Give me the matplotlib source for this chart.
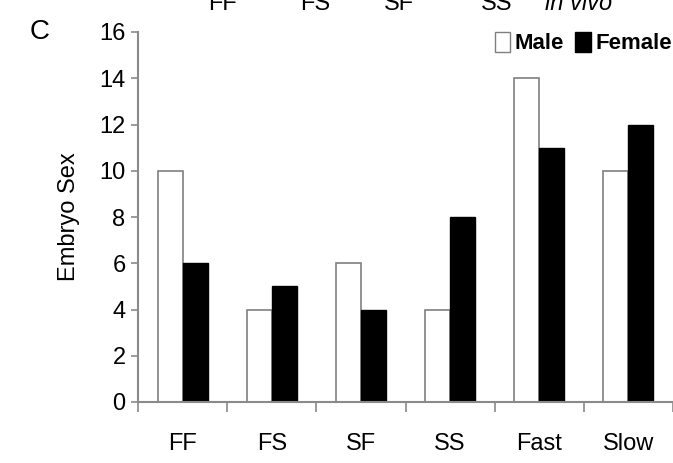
import numpy as np
import matplotlib
matplotlib.use('Agg')
import matplotlib.pyplot as plt
from matplotlib.patches import Patch

# data
categories = ['FF', 'FS', 'SF', 'SS', 'Fast', 'Slow']
male = [10, 4, 6, 4, 14, 10]
female = [6, 5, 4, 8, 11, 12]
yticks = [0, 2, 4, 6, 8, 10, 12, 14, 16]

plt.rcParams['font.family'] = ['Liberation Sans', 'DejaVu Sans']

fig = plt.figure(figsize=(6.73, 4.63), dpi=100)
ax = fig.add_axes([138 / 673, 1 - 402 / 463, 535 / 673, 370 / 463])

x = np.arange(len(categories)) + 0.5
w = 0.28
ax.bar(x - w / 2, male, w, color='white', edgecolor='#7f7f7f', linewidth=1.2, label='Male')
ax.bar(x + w / 2, female, w, color='black', edgecolor='black', linewidth=1.0, label='Female')

ax.set_xlim(0, len(categories))
ax.set_ylim(0, 16)
ax.set_yticks(yticks)
ax.set_xticks(np.arange(len(categories) + 1))
ax.set_xticklabels([])
ax.set_xticks(x, minor=True)
ax.set_xticklabels(categories, minor=True, fontsize=17)
ax.tick_params(axis='x', which='minor', length=0, pad=22)
ax.tick_params(axis='x', which='major', length=7, width=1.2, color='#8a8a8a', direction='out')
ax.tick_params(axis='y', length=5, width=1.2, color='#8a8a8a', labelsize=17, pad=4)

for side in ['top', 'right']:
    ax.spines[side].set_visible(False)
for side in ['left', 'bottom']:
    ax.spines[side].set_color('#8a8a8a')
    ax.spines[side].set_linewidth(1.5)

ax.set_ylabel('Embryo Sex', fontsize=17, labelpad=14)

handles = [Patch(facecolor='white', edgecolor='#7f7f7f', label='Male'),
           Patch(facecolor='black', edgecolor='black', label='Female')]
leg = ax.legend(handles=handles, loc='upper right', ncol=2, frameon=False,
                bbox_to_anchor=(1.035, 1.055), handlelength=0.7, handleheight=1.0,
                handletextpad=0.2, columnspacing=0.5,
                prop={'weight': 'bold', 'size': 16})

# panel letter
fig.text(40 / 673, 1 - 32 / 463, 'C', fontsize=20, ha='center', va='center')

# clipped text from the panel above
top_y = 1 - 4 / 463
for lbl, px in [('FF', 222), ('FS', 315), ('SF', 399), ('SS', 497)]:
    fig.text(px / 673, top_y, lbl, fontsize=17, ha='center', va='center')
fig.text(579 / 673, top_y, 'in vivo', fontsize=17, ha='center', va='center', style='italic')

fig.savefig('out.png', dpi=100)
